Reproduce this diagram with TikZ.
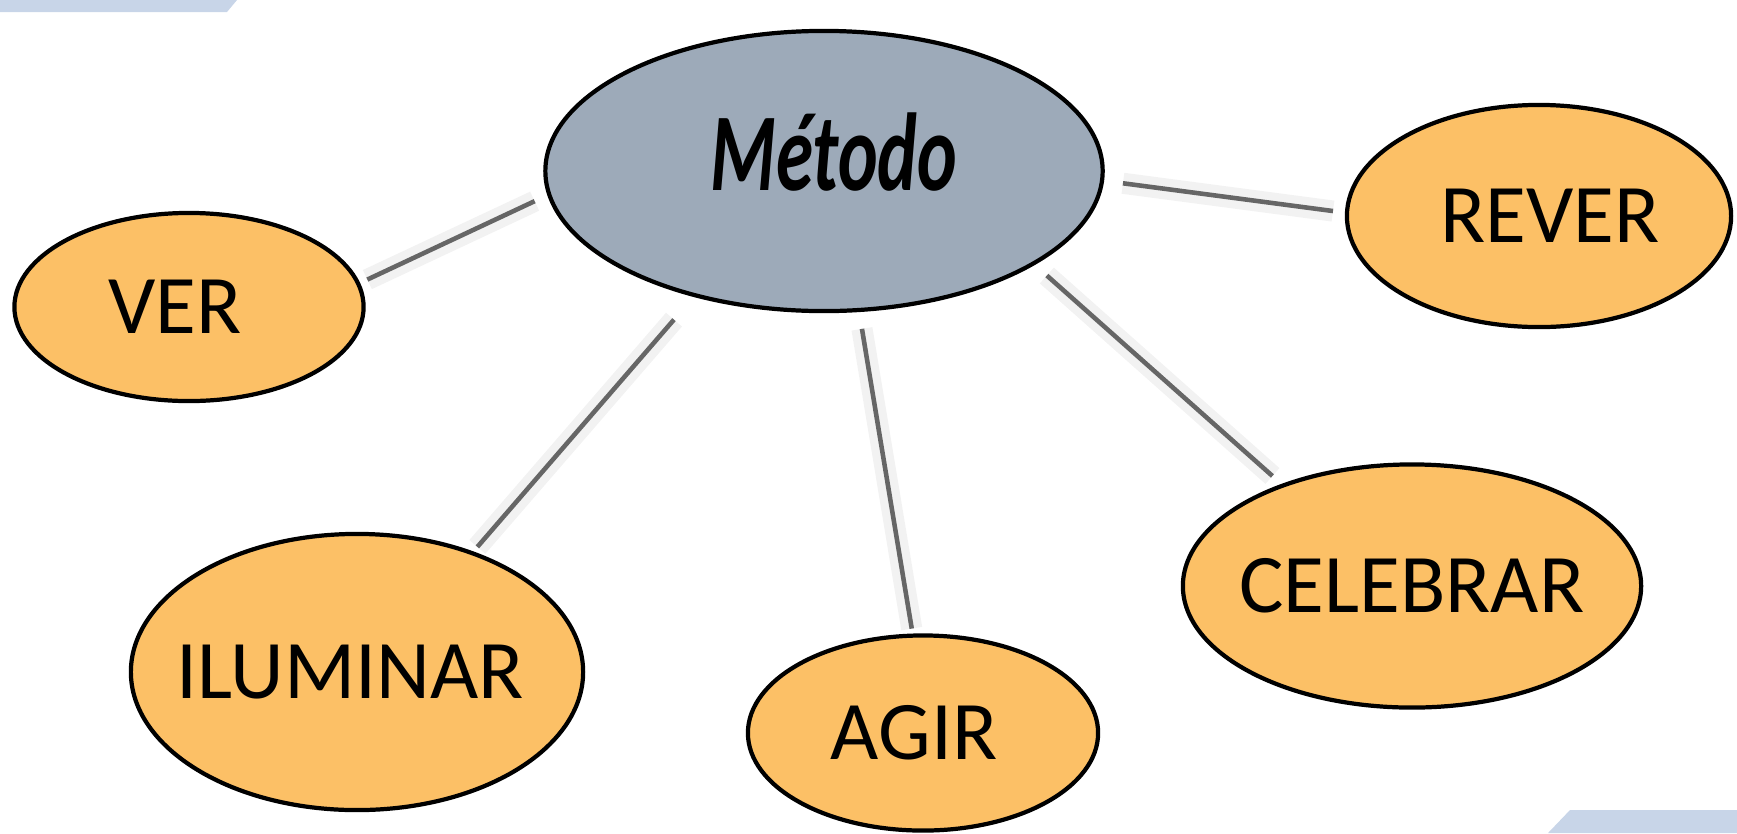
\documentclass[tikz,border=0pt]{standalone}
\usepackage{fontspec}
\setmainfont{Carlito}
\newfontfamily\metfont[FakeStretch=0.68]{Carlito}
\usepackage{xcolor}
\usepackage{tikz}
\usetikzlibrary{shapes.geometric}

\definecolor{metfill}{HTML}{9DAAB9}
\definecolor{leaffill}{HTML}{FCC066}
\definecolor{bandblue}{HTML}{C8D5E8}

\begin{document}
\begin{tikzpicture}[x=0.01cm, y=-0.01cm,
      met/.style={draw, ellipse, fill=metfill, line width=1.2pt,
                  minimum width=5.57cm, minimum height=2.80cm},
      leaf/.style={draw, ellipse, fill=leaffill, line width=1.2pt},
      lbl/.style={font=\fontsize{23.7}{28}\selectfont},
      ttl/.style={font=\metfont\bfseries\itshape\fontsize{31.5}{36}\selectfont},
      link/.style={draw=black!60, line width=1.3pt,
                   preaction={draw=black!5, line width=6pt}}
  ]
    \useasboundingbox (0,0) rectangle (1737,833);
    % corner bands
    \fill[bandblue] (0,0) -- (237,0) -- (227,12) -- (0,12) -- cycle;
    \fill[bandblue] (1570,810) -- (1737,810) -- (1737,833) -- (1548,833) -- cycle;

    \node[met, label={[ttl, xshift=0.10cm, yshift=0.19cm]center:Método}] (met) at (824,171) {};
    \node[leaf, minimum width=3.49cm, minimum height=1.88cm,
          label={[lbl, xshift=-0.14cm]center:VER}] (ver) at (189,307) {};
    \node[leaf, minimum width=3.84cm, minimum height=2.22cm,
          label={[lbl, xshift=0.11cm]center:REVER}] (rev) at (1539,216) {};
    \node[leaf, minimum width=4.52cm, minimum height=2.76cm,
          label={[lbl, xshift=-0.07cm]center:ILUMINAR}] (ilu) at (357,672) {};
    \node[leaf, minimum width=3.50cm, minimum height=1.95cm,
          label={[lbl, xshift=-0.09cm]center:AGIR}] (agir) at (923,733) {};
    \node[leaf, minimum width=4.58cm, minimum height=2.43cm,
          label={[lbl]center:CELEBRAR}] (cel) at (1412,586) {};

    \draw[link, shorten <=0.08cm, shorten >=0.14cm] (ver.8) -- (met.185.6);
    \draw[link, shorten <=0.06cm, shorten >=0.30cm] (ilu.46.4) -- (met.224.1);
    \draw[link, shorten <=0.05cm, shorten >=0.17cm] (agir.96.8) -- (met.284.9);
    \draw[link, shorten <=0.12cm, shorten >=0.16cm] (cel.142.7) -- (met.336.5);
    \draw[link, shorten <=0.12cm, shorten >=0.19cm] (rev.179.4) -- (met.358.4);
  \end{tikzpicture}
\end{document}
